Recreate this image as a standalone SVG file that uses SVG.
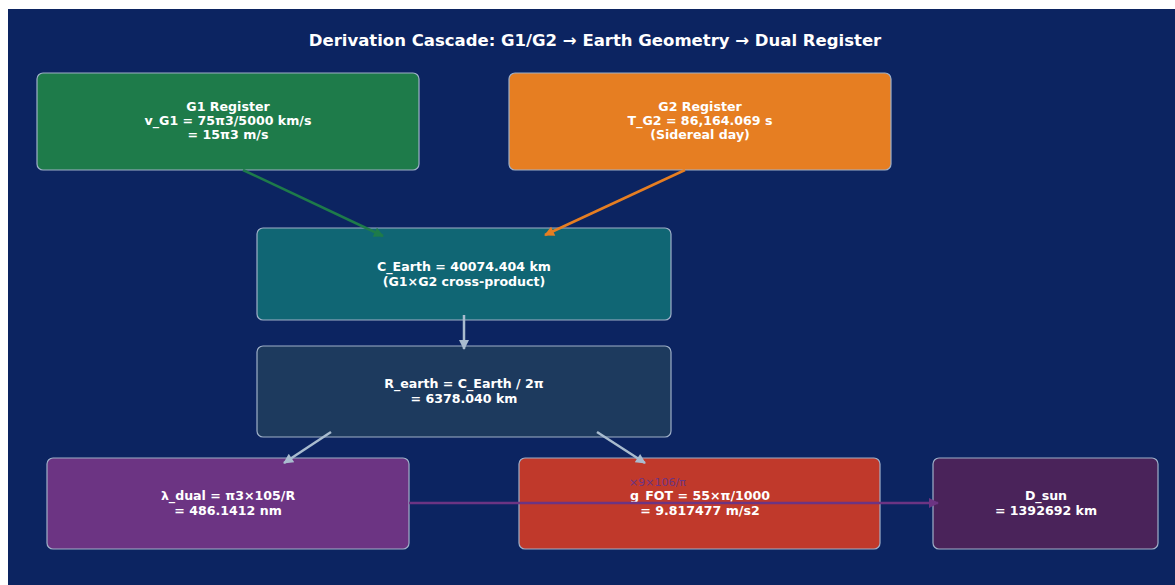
<svg xmlns="http://www.w3.org/2000/svg" width="1175" height="585" viewBox="0 0 1175 585">
<style>
.box{stroke:#9fb0c8;stroke-width:1.2}
.t{font-family:"DejaVu Sans",sans-serif;font-weight:bold;font-size:12.6px;fill:#ffffff;text-anchor:middle}
.title{font-family:"DejaVu Sans",sans-serif;font-weight:bold;font-size:16.5px;fill:#ffffff;text-anchor:middle}
.lbl{font-family:"DejaVu Sans",sans-serif;font-size:11px;fill:#6c3483;text-anchor:start}
.c{fill:none;stroke-width:2.5}
</style>
<defs>
<marker id="ag" viewBox="0 0 10 10" refX="9" refY="5" markerWidth="5" markerHeight="4" orient="auto" markerUnits="strokeWidth"><path d="M0,0L10,5L0,10z" fill="#1e7b4a"/></marker>
<marker id="ao" viewBox="0 0 10 10" refX="9" refY="5" markerWidth="5" markerHeight="4" orient="auto" markerUnits="strokeWidth"><path d="M0,0L10,5L0,10z" fill="#e67e22"/></marker>
<marker id="as" viewBox="0 0 10 10" refX="9" refY="5" markerWidth="5" markerHeight="4" orient="auto" markerUnits="strokeWidth"><path d="M0,0L10,5L0,10z" fill="#a9bccf"/></marker>
<marker id="ap" viewBox="0 0 10 10" refX="9" refY="5" markerWidth="5" markerHeight="4" orient="auto" markerUnits="strokeWidth"><path d="M0,0L10,5L0,10z" fill="#6c3483"/></marker>
</defs>
<rect x="0" y="0" width="1175" height="585" fill="#ffffff"/>
<rect x="8" y="9" width="1167" height="576" fill="#0c2461"/>
<text class="title" x="595" y="46">Derivation Cascade: G1/G2 → Earth Geometry → Dual Register</text>
<g id="g1"><rect class="box" x="37" y="73" width="382" height="97" rx="6" fill="#1e7b4a"/>
<text class="t" x="228" y="111">G1 Register</text><text class="t" x="228" y="125">v_G1 = 75π3/5000 km/s</text><text class="t" x="228" y="139">= 15π3 m/s</text></g>
<g id="g2"><rect class="box" x="509" y="73" width="382" height="97" rx="6" fill="#e67e22"/>
<text class="t" x="700" y="111">G2 Register</text><text class="t" x="700" y="125">T_G2 = 86,164.069 s</text><text class="t" x="700" y="139">(Sidereal day)</text></g>
<g id="cearth"><rect class="box" x="257" y="228" width="414" height="92" rx="6" fill="#106674"/>
<text class="t" x="464" y="271">C_Earth = 40074.404 km</text><text class="t" x="464" y="286">(G1×G2 cross-product)</text></g>
<g id="rearth"><rect class="box" x="257" y="346" width="414" height="91" rx="6" fill="#1d3a5e"/>
<text class="t" x="464" y="388">R_earth = C_Earth / 2π</text><text class="t" x="464" y="403">= 6378.040 km</text></g>
<g id="lambda"><rect class="box" x="47" y="458" width="362" height="91" rx="6" fill="#6c3483"/>
<text class="t" x="228" y="500">λ_dual = π3×105/R</text><text class="t" x="228" y="515">= 486.1412 nm</text></g>
<g id="gfot"><rect class="box" x="519" y="458" width="361" height="91" rx="6" fill="#c0392b"/>
<text class="t" x="700" y="500">g_FOT = 55×π/1000</text><text class="t" x="700" y="515">= 9.817477 m/s2</text></g>
<g id="dsun"><rect class="box" x="933" y="458" width="225" height="91" rx="6" fill="#4a235a"/>
<text class="t" x="1046" y="500">D_sun</text><text class="t" x="1046" y="515">= 1392692 km</text></g>
<g id="connectors">
<line class="c" x1="243" y1="170" x2="383" y2="236" stroke="#1e7b4a" marker-end="url(#ag)"/>
<line class="c" x1="685" y1="170" x2="545" y2="235" stroke="#e67e22" marker-end="url(#ao)"/>
<line class="c" x1="464" y1="315" x2="464" y2="349" stroke="#a9bccf" marker-end="url(#as)"/>
<line class="c" x1="331" y1="432" x2="284" y2="463" stroke="#a9bccf" marker-end="url(#as)"/>
<line class="c" x1="597" y1="432" x2="645" y2="463" stroke="#a9bccf" marker-end="url(#as)"/>
<line class="c" x1="409" y1="503" x2="938" y2="503" stroke="#6c3483" marker-end="url(#ap)"/>
<text class="lbl" x="629" y="486">×9×106/π</text>
</g>
</svg>
